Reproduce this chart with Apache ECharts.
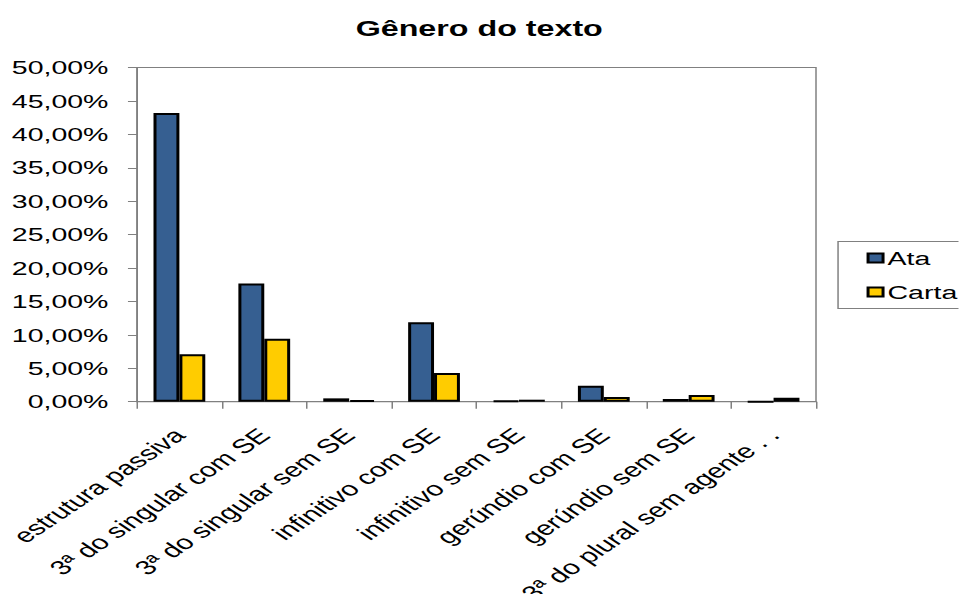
<!DOCTYPE html>
<html>
<head>
<meta charset="utf-8">
<script src="https://cdn.jsdelivr.net/npm/echarts@6/dist/echarts.min.js"></script>
<style>
  html, body { margin: 0; padding: 0; background: #fff; overflow: hidden; }
  /* the chart is laid out narrow and widened horizontally */
  #chart { width: 639.33px; height: 594px; transform: scaleX(1.5); transform-origin: 0 0; }
</style>
</head>
<body>
<div id="chart"></div>
<script>
const categories = [
  'estrutura passiva',
  '3ª do singular com SE',
  '3ª do singular sem SE',
  'infinitivo com SE',
  'infinitivo sem SE',
  'gerúndio com SE',
  'gerúndio sem SE',
  '3ª do plural sem agente . .'
];
const ataValues = [43.2, 17.7, 0.5, 11.9, 0.1, 2.4, 0.4, 0];
const cartaValues = [7.1, 9.4, 0.2, 4.3, 0.3, 0.7, 1.0, 0.6];
const yTicks = { min: 0, max: 50, interval: 5 };

const FONT = "'Liberation Sans', Arial, sans-serif";
const chart = echarts.init(document.getElementById('chart'), null, { renderer: 'svg' });

chart.setOption({
  animation: false,
  backgroundColor: '#ffffff',
  title: {
    text: 'Gênero do texto',
    left: 'center',
    top: 13,
    textStyle: { fontFamily: FONT, fontSize: 21.5, fontWeight: 'bold', color: '#000' }
  },
  legend: {
    orient: 'vertical',
    left: 558.7,
    top: 241.5,
    padding: [7, 20, 7, 19],
    borderColor: '#808080',
    borderWidth: 1,
    itemWidth: 10,
    itemHeight: 9,
    itemGap: 15,
    icon: 'rect',
    textStyle: { fontFamily: FONT, fontSize: 19, color: '#000', padding: [0, 0, 0, -2] },
    data: ['Ata', 'Carta']
  },
  grid: {
    left: 91.3,
    top: 67.5,
    width: 452.7,
    height: 334.2,
    show: true,
    borderColor: '#808080',
    borderWidth: 1,
    containLabel: false,
    outerBoundsMode: 'none'
  },
  xAxis: {
    type: 'category',
    data: categories,
    axisLine: { lineStyle: { color: '#808080', width: 1 } },
    axisTick: { show: true, length: 7, interval: 0, lineStyle: { color: '#808080' } },
    axisLabel: {
      interval: 0,
      rotate: 45,
      margin: 30,
      fontFamily: FONT,
      fontSize: 20,
      color: '#000'
    },
    splitLine: { show: false }
  },
  yAxis: {
    type: 'value',
    min: yTicks.min,
    max: yTicks.max,
    interval: yTicks.interval,
    axisLine: { show: true, lineStyle: { color: '#808080', width: 1 } },
    axisTick: { show: true, length: 6, lineStyle: { color: '#808080' } },
    axisLabel: {
      margin: 19,
      fontFamily: FONT,
      fontSize: 19,
      color: '#000',
      formatter: v => v.toFixed(2).replace('.', ',') + '%'
    },
    splitLine: { show: false }
  },
  series: [
    {
      name: 'Ata',
      type: 'bar',
      data: ataValues,
      barGap: '0%',
      barCategoryGap: '39%',
      itemStyle: { color: '#365f91', borderColor: '#000', borderWidth: 2 }
    },
    {
      name: 'Carta',
      type: 'bar',
      data: cartaValues,
      barGap: '0%',
      barCategoryGap: '39%',
      itemStyle: { color: '#ffcc00', borderColor: '#000', borderWidth: 2 }
    }
  ]
});
</script>
</body>
</html>
